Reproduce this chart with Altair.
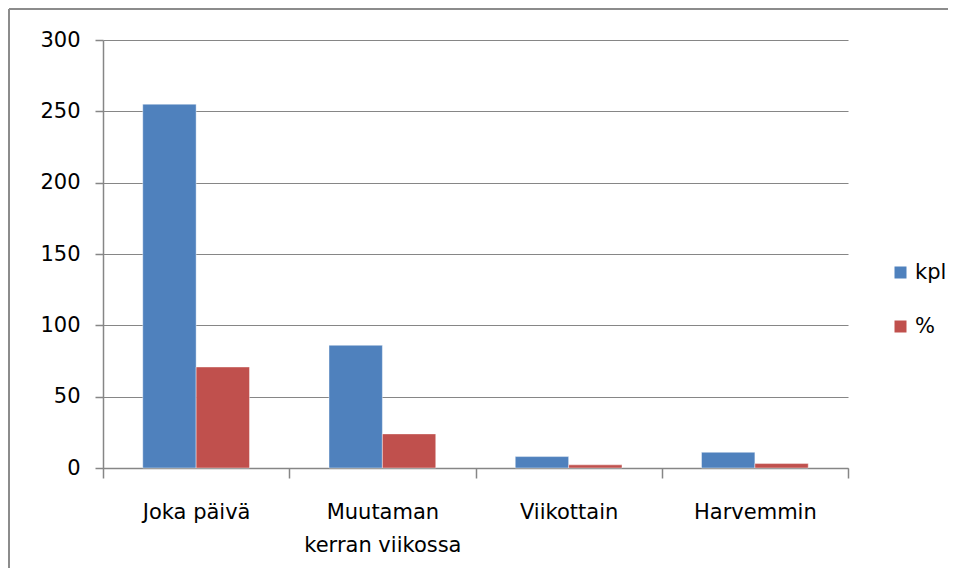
import altair as alt
import pandas as pd

categories = ["Joka päivä", "Muutaman kerran viikossa", "Viikottain", "Harvemmin"]
series = ["kpl", "%"]
kpl_values = [255, 86, 8, 11]
pct_values = [70.8, 23.9, 2.2, 3.1]
y_ticks = [0, 50, 100, 150, 200, 250, 300]
colors = ["#4F81BD", "#C0504D"]

rows = []
for c, k, p in zip(categories, kpl_values, pct_values):
    rows.append({"category": c, "series": "kpl", "value": k})
    rows.append({"category": c, "series": "%", "value": p})
df = pd.DataFrame(rows)

W, H = 745, 428
PL, PT, PR, PB = 95, 32, 100, 100

label_expr = ("datum.label == 'Muutaman kerran viikossa' ? "
              "['Muutaman', 'kerran viikossa'] : datum.label")

bars = alt.Chart(df).mark_bar(stroke="white", strokeWidth=0.6, strokeOpacity=0.7).encode(
    x=alt.X("category:N", sort=categories,
            scale=alt.Scale(paddingInner=0, paddingOuter=0),
            axis=alt.Axis(title=None, labelAngle=0, labelExpr=label_expr,
                          tickBand="extent", tickSize=10, tickColor="#868686",
                          tickWidth=1.5,
                          domainColor="#868686", domainWidth=1.5,
                          labelFont="DejaVu Sans", labelFontSize=21,
                          labelColor="#000000", labelPadding=23,
                          labelLineHeight=33, grid=False)),
    xOffset=alt.XOffset("series:N", sort=series,
                        scale=alt.Scale(paddingInner=0, paddingOuter=0.745)),
    y=alt.Y("value:Q", scale=alt.Scale(domain=[0, 300], nice=False),
            axis=alt.Axis(title=None, values=y_ticks, tickSize=8,
                          tickColor="#868686", tickWidth=1.5,
                          domainColor="#868686", domainWidth=1.5,
                          gridColor="#868686", gridWidth=1.2,
                          labelFont="DejaVu Sans", labelFontSize=21,
                          labelColor="#000000", labelPadding=15)),
    color=alt.Color("series:N", sort=series,
                    scale=alt.Scale(domain=series, range=colors),
                    legend=alt.Legend(title=None, orient="none",
                                      legendX=787, legendY=222,
                                      symbolType="square", symbolSize=144,
                                      symbolStrokeWidth=0,
                                      labelFont="DejaVu Sans", labelFontSize=21,
                                      labelColor="#000000", rowPadding=32,
                                      labelOffset=4)),
)

border_left = alt.Chart(pd.DataFrame({"a": [0]})).mark_rule(
    color="#8c8c8c", strokeWidth=2).encode(
    x=alt.value(-PL + 1), y=alt.value(-PT + 1), y2=alt.value(H + PB))
border_top = alt.Chart(pd.DataFrame({"a": [0]})).mark_rule(
    color="#8c8c8c", strokeWidth=2).encode(
    x=alt.value(-PL + 1), x2=alt.value(W + PR), y=alt.value(-PT + 1))

chart = alt.layer(bars, border_left, border_top).properties(
    width=W, height=H,
    autosize=alt.AutoSizeParams(type="none"),
    padding={"left": PL, "top": PT, "right": PR, "bottom": PB},
).configure_view(stroke=None).configure_axis(gridOpacity=1)

chart.save("out.html", embed_options={"renderer": "svg", "actions": False})
